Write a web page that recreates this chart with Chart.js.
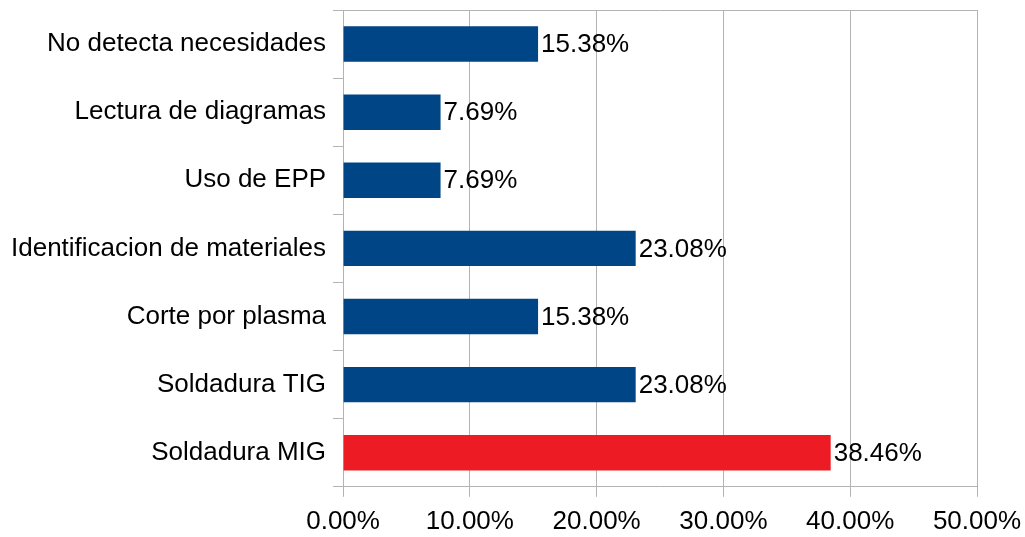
<!DOCTYPE html>
<html>
<head>
<meta charset="utf-8">
<script src="https://cdn.jsdelivr.net/npm/chart.js@4"></script>
<style>
  html, body { margin: 0; padding: 0; background: #fff; }
  #wrap { width: 1025px; height: 537px; }
</style>
</head>
<body>
<div id="wrap"><canvas id="bar-chart"></canvas></div>
<script>
var Labels = ['No detecta necesidades', 'Lectura de diagramas', 'Uso de EPP', 'Identificacion de materiales', 'Corte por plasma', 'Soldadura TIG', 'Soldadura MIG'];
var Values = [15.38, 7.69, 7.69, 23.08, 15.38, 23.08, 38.46];
var BarColors = ['#004586', '#004586', '#004586', '#004586', '#004586', '#004586', '#ed1c24'];

var gridGrey = '#b3b3b3';
var fontFamily = '"Liberation Sans", Arial, sans-serif';

// draws the value text to the right of each bar
var valueLabels = {
    id: 'valueLabels',
    afterDatasetsDraw: function (chart) {
        let ctx = chart.ctx;
        let meta = chart.getDatasetMeta(0);
        ctx.save();
        ctx.font = '26px ' + fontFamily;
        ctx.fillStyle = '#000';
        ctx.textAlign = 'left';
        ctx.textBaseline = 'middle';
        meta.data.forEach(function (bar, i) {
            ctx.fillText(Values[i].toFixed(2) + '%', bar.x + 3, bar.y + 1);
        });
        ctx.restore();
    }
};

let barChart = new Chart('bar-chart', {
    type: 'bar',
    data: {
        labels: Labels,
        datasets: [{
            data: Values,
            backgroundColor: BarColors,
            borderWidth: 0,
            barPercentage: 0.52,
            categoryPercentage: 1
        }]
    },
    options: {
        indexAxis: 'y',
        responsive: true,
        maintainAspectRatio: false,
        animation: false,
        layout: {
            padding: { top: 10, right: 0, bottom: 0, left: 4 }
        },
        plugins: {
            legend: { display: false },
            tooltip: { enabled: false }
        },
        scales: {
            x: {
                min: 0,
                max: 50,
                ticks: {
                    stepSize: 10,
                    color: '#000',
                    padding: 9,
                    font: { family: fontFamily, size: 26 },
                    callback: function (v) { return v.toFixed(2) + '%'; }
                },
                grid: { color: gridGrey, lineWidth: 1, tickLength: 10 },
                border: { color: gridGrey },
                afterFit: function (scale) {
                    scale.height -= 9;
                    scale.paddingRight = 48;
                }
            },
            y: {
                ticks: {
                    color: '#000',
                    padding: 7,
                    font: { family: fontFamily, size: 26 }
                },
                grid: {
                    offset: true,
                    tickLength: 10,
                    tickColor: gridGrey,
                    color: function (c) { return c.index === 0 ? gridGrey : 'rgba(0,0,0,0)'; }
                },
                border: { color: gridGrey },
                afterFit: function (scale) {
                    scale.paddingTop = 0;
                    scale.paddingBottom = 0;
                }
            }
        }
    },
    plugins: [valueLabels]
});
</script>
</body>
</html>
